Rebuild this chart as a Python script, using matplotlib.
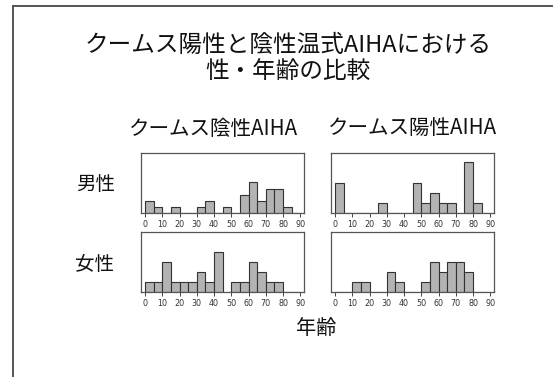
import matplotlib
matplotlib.use("Agg")
import matplotlib.pyplot as plt
from matplotlib.lines import Line2D
import numpy as np

plt.rcParams['font.family'] = ['Noto Sans CJK JP', 'DejaVu Sans']

# 5-year age bins, 0-90
bin_starts = np.arange(0, 90, 5)
age_ticks = [0, 10, 20, 30, 40, 50, 60, 70, 80, 90]

# case counts per age bin
male_negative = [2, 1, 0, 1, 0, 0, 1, 2, 0, 1, 0, 3, 5, 2, 4, 4, 1, 0]
male_positive = [3, 0, 0, 0, 0, 1, 0, 0, 0, 3, 1, 2, 1, 1, 0, 5, 1, 0]
female_negative = [1, 1, 3, 1, 1, 1, 2, 1, 4, 0, 1, 1, 3, 2, 1, 1, 0, 0]
female_positive = [0, 0, 1, 1, 0, 0, 2, 1, 0, 0, 1, 3, 2, 3, 3, 2, 0, 0]

title = "クームス陽性と陰性温式AIHAにおける\n性・年齢の比較"
col_titles = ["クームス陰性AIHA", "クームス陽性AIHA"]
row_titles = ["男性", "女性"]
x_label = "年齢"

W, H = 553, 377
fig = plt.figure(figsize=(W / 100, H / 100), dpi=100)
fig.patch.set_facecolor("white")


def fx(px):
    return px / W


def fy(py):
    return 1 - py / H


# page frame (left and top edges)
fig.add_artist(Line2D([fx(12.5), fx(12.5)], [0, fy(6)], color="#555555", lw=1.4,
                      transform=fig.transFigure))
fig.add_artist(Line2D([fx(12.5), 1], [fy(6), fy(6)], color="#555555", lw=1.4,
                      transform=fig.transFigure))

panels = [
    (male_negative, 141, 213.3, 60.0, 9.7),
    (male_positive, 331, 213.3, 60.0, 5.9),
    (female_negative, 141, 292.3, 60.6, 6.0),
    (female_positive, 331, 292.3, 60.6, 6.0),
]

for counts, left, base, height, ytop in panels:
    ax = fig.add_axes([fx(left), fy(base), 163 / W, height / H])
    ax.bar(bin_starts, counts, width=5, align="edge", color="#b3b3b3",
           edgecolor="#333333", linewidth=0.8)
    ax.set_xlim(-2.3, 92.1)
    ax.set_ylim(0, ytop)
    ax.set_xticks(age_ticks)
    ax.set_xticklabels([str(t) for t in age_ticks], family="DejaVu Sans",
                       fontsize=5.8, color="#333333")
    ax.set_yticks([])
    ax.tick_params(axis="x", direction="out", length=3, width=0.7,
                   color="#444444", pad=1.5)
    for s in ax.spines.values():
        s.set_color("#555555")
        s.set_linewidth(0.9)

txt = dict(ha="center", va="center", color="#111111", fontweight="normal")
fig.text(fx(288), fy(59), title, fontsize=17, linespacing=1.2, **txt)
fig.text(fx(214), fy(128.5), col_titles[0], fontsize=14.8, **txt)
fig.text(fx(413), fy(128.5), col_titles[1], fontsize=14.8, **txt)
fig.text(fx(96), fy(185), row_titles[0], fontsize=14, **txt)
fig.text(fx(95), fy(265), row_titles[1], fontsize=14, **txt)
fig.text(fx(316.5), fy(328.5), x_label, fontsize=14.5, **txt)

fig.savefig("out.png", dpi=100, facecolor="white")
